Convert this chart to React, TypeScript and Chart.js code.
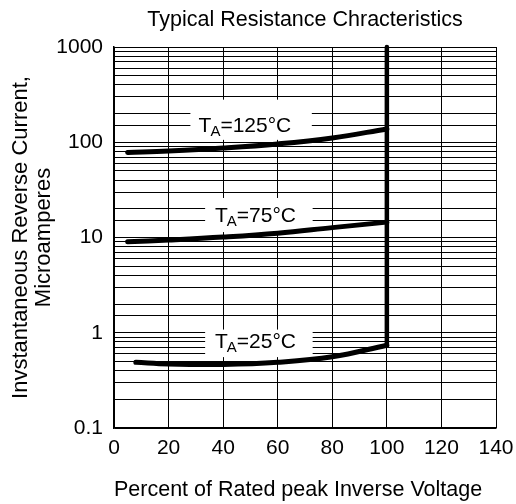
import React, { useEffect, useRef } from 'react';
import { Chart, registerables } from 'chart.js';

Chart.register(...registerables);

const titleText = 'Typical Resistance Chracteristics';
const xTitle = 'Percent of Rated peak Inverse Voltage';
const yTitle = ['Invstantaneous Reverse Current,', 'Microamperes'];

const xTickStep = 20;
const xMin = 0;
const xMax = 140;
const yTickLabels = [0.1, 1, 10, 100, 1000];

// T_A = 125 °C
const x125 = [5, 20, 40, 60, 80, 100];
const y125 = [78, 81, 87, 96, 111, 138];
// T_A = 75 °C
const x75 = [5, 20, 40, 60, 80, 100];
const y75 = [9.0, 9.4, 10.1, 11.1, 12.7, 14.5];
// T_A = 25 °C
const x25 = [8, 20, 40, 60, 80, 100];
const y25 = [0.49, 0.47, 0.465, 0.49, 0.56, 0.74];
// breakdown at 100 %
const xBreak = [100, 100];
const yBreak = [0.74, 1000];

const curveTemps = ['125', '75', '25'];
const labelX = [31, 37, 37];
const labelBaseY = [128, 14.5, 0.69];
const boxX0 = [28, 33.4, 33.4];
const boxX1 = [72.5, 72.8, 72.8];
const boxY0 = [106, 11.4, 0.555];
const boxY1 = [280, 26, 1.08];

const FONT = 'Arial, "Liberation Sans", Helvetica, sans-serif';

const labelPlugin = {
  id: 'curveLabels',
  beforeDatasetsDraw(chart: any) {
    const { ctx, scales } = chart;
    const xs = scales.x;
    const ys = scales.y;
    ctx.save();
    curveTemps.forEach((t, i) => {
      const bx0 = xs.getPixelForValue(boxX0[i]);
      const bx1 = xs.getPixelForValue(boxX1[i]);
      const by0 = ys.getPixelForValue(boxY1[i]);
      const by1 = ys.getPixelForValue(boxY0[i]);
      ctx.fillStyle = '#fff';
      ctx.fillRect(bx0, by0, bx1 - bx0, by1 - by0);
      let px = xs.getPixelForValue(labelX[i]);
      const py = ys.getPixelForValue(labelBaseY[i]);
      ctx.fillStyle = '#000';
      ctx.textBaseline = 'alphabetic';
      ctx.textAlign = 'left';
      ctx.font = `21px ${FONT}`;
      ctx.fillText('T', px, py);
      px += ctx.measureText('T').width - 1;
      ctx.font = `15px ${FONT}`;
      ctx.fillText('A', px, py + 4);
      px += ctx.measureText('A').width;
      ctx.font = `21px ${FONT}`;
      ctx.fillText(`=${t}°C`, px, py);
    });
    ctx.restore();
  },
};

// chart title centred over the plot area
const titlePlugin = {
  id: 'plotTitle',
  afterDraw(chart: any) {
    const { ctx, chartArea } = chart;
    ctx.save();
    ctx.fillStyle = '#000';
    ctx.font = `21.5px ${FONT}`;
    ctx.textAlign = 'center';
    ctx.textBaseline = 'middle';
    ctx.fillText(titleText, (chartArea.left + chartArea.right) / 2, 20);
    ctx.restore();
  },
};

export default function App() {
  const ref = useRef<HTMLCanvasElement | null>(null);

  useEffect(() => {
    if (!ref.current) return;
    Chart.defaults.font.family = FONT;
    Chart.defaults.color = '#000';
    const mk = (xs: number[], ys: number[]) => xs.map((x, i) => ({ x, y: ys[i] }));
    const lineStyle = {
      borderColor: '#000',
      borderWidth: 5,
      pointRadius: 0,
      tension: 0.4,
      borderCapStyle: 'round' as const,
      borderJoinStyle: 'round' as const,
      fill: false,
    };
    const chart = new Chart(ref.current, {
      type: 'line',
      data: {
        datasets: [
          { ...lineStyle, data: mk(x125, y125) },
          { ...lineStyle, data: mk(x75, y75) },
          { ...lineStyle, data: mk(x25, y25) },
          { ...lineStyle, tension: 0, borderWidth: 4.5, data: mk(xBreak, yBreak), clip: false as any },
        ],
      },
      options: {
        responsive: false,
        animation: false,
        devicePixelRatio: 1,
        layout: { padding: { left: 0, right: 20, top: 47, bottom: 0 } },
        plugins: {
          legend: { display: false },
          tooltip: { enabled: false },
          title: { display: false },
        },
        scales: {
          x: {
            type: 'linear',
            min: xMin,
            max: xMax,
            ticks: { stepSize: xTickStep, color: '#000', font: { size: 21, family: FONT }, padding: 8, maxRotation: 0 },
            grid: { color: '#000', lineWidth: 1, drawTicks: false },
            border: { color: '#000', width: 1.5 },
            title: {
              display: true,
              text: xTitle,
              align: 'start',
              color: '#000',
              font: { size: 21.5, family: FONT, lineHeight: 1.2 },
              padding: { top: 0, bottom: 1 },
            },
            afterFit: (s: any) => {
              s.height = 76;
              s.paddingLeft = 0;
              s.paddingRight = 0;
            },
          },
          y: {
            type: 'logarithmic',
            min: 0.1,
            max: 1000,
            ticks: {
              autoSkip: false,
              color: '#000',
              font: { size: 21, family: FONT },
              padding: 11,
              callback: (v: any) => {
                const n = Number(v);
                const hit = yTickLabels.find((t) => Math.abs(Math.log10(t) - Math.log10(n)) < 1e-6);
                return hit !== undefined ? String(hit) : '';
              },
            },
            grid: { color: '#000', lineWidth: 1, drawTicks: false },
            border: { color: '#000', width: 1.5 },
            title: {
              display: true,
              text: yTitle,
              color: '#000',
              font: { size: 22, family: FONT, lineHeight: 23 / 22 },
              padding: { top: 9.5, bottom: 0 },
            },
            afterFit: (s: any) => {
              s.width = 114;
              s.paddingTop = 0;
              s.paddingBottom = 0;
            },
          },
        },
      },
      plugins: [labelPlugin, titlePlugin],
    });
    return () => chart.destroy();
  }, []);

  return (
    <div style={{ position: 'absolute', left: 0, top: 0, width: 516, height: 504, background: '#fff' }}>
      <canvas ref={ref} width={516} height={504} style={{ display: 'block' }} />
    </div>
  );
}
